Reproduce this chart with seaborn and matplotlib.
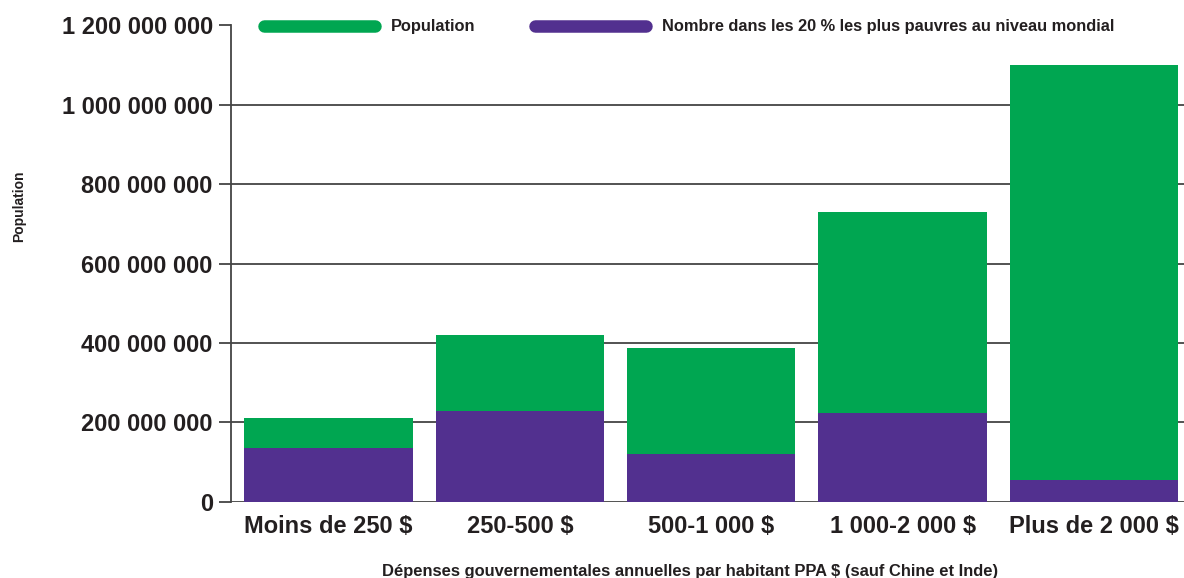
import matplotlib
matplotlib.use("Agg")
import matplotlib.pyplot as plt
import matplotlib.ticker as mticker
from matplotlib.lines import Line2D
import seaborn as sns
import pandas as pd

categories = ["Moins de 250 $", "250-500 $", "500-1 000 $", "1 000-2 000 $", "Plus de 2 000 $"]
population = [212e6, 419e6, 387e6, 730e6, 1099e6]
pauvres = [135e6, 229e6, 120e6, 223e6, 56e6]
y_ticks = [0, 200e6, 400e6, 600e6, 800e6, 1000e6, 1200e6]

green = "#00A651"
purple = "#52308F"
dark = "#231F20"

df = pd.DataFrame({"cat": categories, "pop": population, "pauvres": pauvres})

sns.set_style("white")
plt.rcParams["font.family"] = ["Liberation Sans", "DejaVu Sans"]
plt.rcParams["font.weight"] = "bold"

fig = plt.figure(figsize=(11.84, 5.78), dpi=100)
ax = fig.add_axes([0.195, 0.1315, 0.805, 0.8252])

sns.barplot(data=df, x="cat", y="pop", color=green, saturation=1, width=0.88, ax=ax, zorder=2, linewidth=0)
sns.barplot(data=df, x="cat", y="pauvres", color=purple, saturation=1, width=0.88, ax=ax, zorder=3, linewidth=0)

ax.set_xlim(-0.51, 4.47)
ax.set_ylim(0, 1200e6)
ax.set_yticks(y_ticks)
ax.yaxis.set_major_formatter(mticker.FuncFormatter(lambda v, p: f"{int(v):,}".replace(",", " ")))

for v in y_ticks[:-1]:
    ax.axhline(v, color="#444444", lw=1.3, zorder=1)

for s in ["top", "right", "bottom"]:
    ax.spines[s].set_visible(False)
ax.spines["left"].set_color("#444444")
ax.spines["left"].set_linewidth(1.3)

ax.tick_params(axis="y", left=True, length=9, width=1.3, color="#444444", labelsize=17, labelcolor=dark, pad=4)
ax.tick_params(axis="x", bottom=False, labelsize=17, labelcolor=dark, pad=6)

ax.set_xlabel("")
ax.set_ylabel("Population", fontsize=10, color=dark, fontweight="bold")
ax.yaxis.set_label_coords(-0.215, 0.62)

fig.text(0.583, 0.012, "Dépenses gouvernementales annuelles par habitant PPA $ (sauf Chine et Inde)",
         ha="center", va="center", fontsize=11.9, color=dark, fontweight="bold")

handles = [Line2D([0], [0], color=green, lw=9, solid_capstyle="round"),
           Line2D([0], [0], color=purple, lw=9, solid_capstyle="round")]
leg = ax.legend(handles, ["Population", "Nombre dans les 20 % les plus pauvres au niveau mondial"],
                loc="center left", bbox_to_anchor=(0.0346, 0.996), ncol=2, frameon=False,
                handlelength=6.8, handletextpad=0.97, columnspacing=3.6, borderpad=0, borderaxespad=0,
                prop={"size": 11.8, "weight": "bold"})
for t in leg.get_texts():
    t.set_color(dark)

fig.savefig("out.png", dpi=100)
